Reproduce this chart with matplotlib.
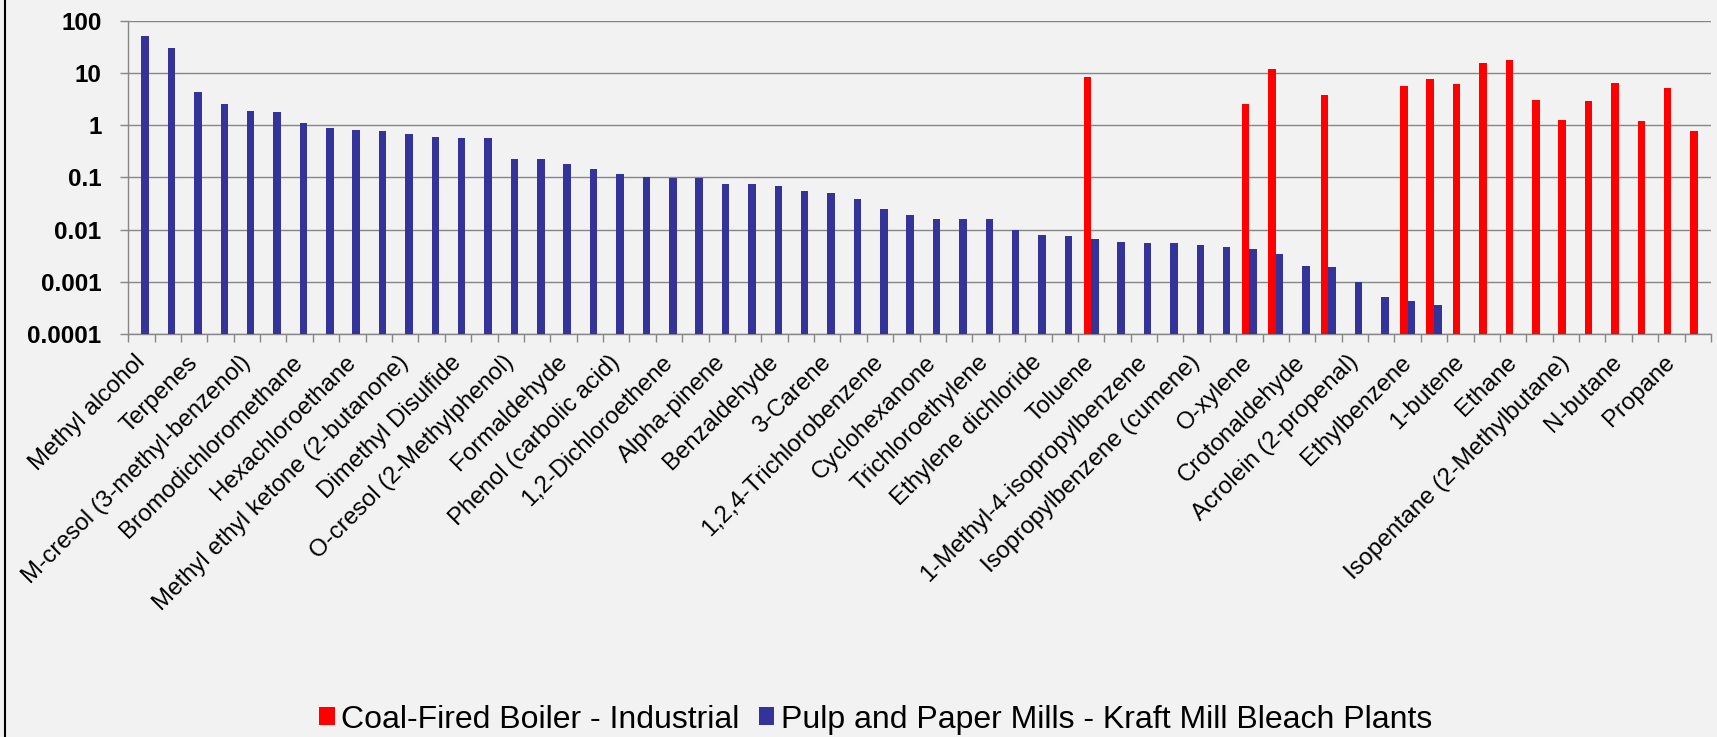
import numpy as np
import matplotlib
matplotlib.use("Agg")
import matplotlib.pyplot as plt
from matplotlib.patches import Patch
from matplotlib.lines import Line2D

plt.rcParams['font.family'] = ['Liberation Sans', 'DejaVu Sans']

# every other category is labelled on the axis (as in the original)
shown_labels = [
    "Methyl alcohol", "Terpenes", "M-cresol (3-methyl-benzenol)",
    "Bromodichloromethane", "Hexachloroethane",
    "Methyl ethyl ketone (2-butanone)", "Dimethyl Disulfide",
    "O-cresol (2-Methylphenol)", "Formaldehyde", "Phenol (carbolic acid)",
    "1,2-Dichloroethene", "Alpha-pinene", "Benzaldehyde", "3-Carene",
    "1,2,4-Trichlorobenzene", "Cyclohexanone", "Trichloroethylene",
    "Ethylene dichloride", "Toluene", "1-Methyl-4-isopropylbenzene",
    "Isopropylbenzene (cumene)", "O-xylene", "Crotonaldehyde",
    "Acrolein (2-propenal)", "Ethylbenzene", "1-butene", "Ethane",
    "Isopentane (2-Methylbutane)", "N-butane", "Propane",
]
n_categories = 60

nan = np.nan
coal_boiler = [
    nan, nan, nan, nan, nan, nan, nan, nan, nan, nan,
    nan, nan, nan, nan, nan, nan, nan, nan, nan, nan,
    nan, nan, nan, nan, nan, nan, nan, nan, nan, nan,
    nan, nan, nan, nan, nan, nan, 8.4, nan, nan, nan,
    nan, nan, 2.58, 11.7, nan, 3.73, nan, nan, 5.6, 7.8,
    6.05, 15.5, 17.9, 3.03, 1.24, 2.9, 6.4, 1.19, 5.2, 0.76,
]
pulp_paper = [
    52, 30.4, 4.25, 2.55, 1.84, 1.80, 1.09, 0.90, 0.81, 0.76,
    0.68, 0.60, 0.56, 0.56, 0.225, 0.22, 0.184, 0.143, 0.118, 0.101,
    0.098, 0.098, 0.073, 0.073, 0.068, 0.055, 0.051, 0.038, 0.0253, 0.0189,
    0.0156, 0.0156, 0.0156, 0.0099, 0.0079, 0.0075, 0.0067, 0.0059, 0.0055, 0.0055,
    0.0050, 0.0046, 0.0042, 0.0034, 0.00202, 0.00194, 0.00097, 0.00051, 0.00042, 0.00036,
    nan, nan, nan, nan, nan, nan, nan, nan, nan, nan,
]
y_ticks = [0.0001, 0.001, 0.01, 0.1, 1, 10, 100]
y_tick_labels = ["0.0001", "0.001", "0.01", "0.1", "1", "10", "100"]

red = "#FF0000"
blue = "#333399"
grey = "#868686"
bg = "#F2F2F2"

W, H = 1717, 737
fig = plt.figure(figsize=(W / 100, H / 100), dpi=100, facecolor=bg)
ax = fig.add_axes([128.2 / W, (H - 334) / H, (1711 - 128.2) / W, (334 - 20.7) / H])
ax.set_facecolor(bg)
ax.set_yscale("log")

x = np.arange(n_categories)
w = 0.285
ax.bar(x - w / 2, coal_boiler, width=w, color=red, zorder=3)
ax.bar(x + w / 2, pulp_paper, width=w, color=blue, zorder=3)

ax.set_xlim(-0.5, n_categories - 0.5)
ax.set_ylim(1e-4, 100)

ax.set_yticks(y_ticks, y_tick_labels)
ax.yaxis.set_minor_locator(matplotlib.ticker.NullLocator())
ax.tick_params(axis="y", length=5.8, width=1, color=grey, pad=13.5,
               labelsize=17.5)
for t in ax.get_yticklabels():
    t.set_fontweight("bold")

ax.set_xticks(x[::2], shown_labels, rotation=45, ha="right", va="center",
              rotation_mode="anchor")
ax.set_xticks(np.arange(-0.5, n_categories), minor=True)
ax.tick_params(axis="x", which="major", length=0, pad=18, labelsize=17.3)
ax.tick_params(axis="x", which="minor", length=5.5, width=1, color=grey)

ax.grid(axis="y", color=grey, linewidth=1.0, zorder=0)
ax.set_axisbelow(True)
for side in ["top", "right"]:
    ax.spines[side].set_visible(False)
for side in ["left", "bottom"]:
    ax.spines[side].set_color(grey)
    ax.spines[side].set_linewidth(1.0)

handles = [Patch(facecolor=red, label="Coal-Fired Boiler - Industrial"),
           Patch(facecolor=blue, label="Pulp and Paper Mills - Kraft Mill Bleach Plants")]
fig.legend(handles=handles, loc="center", bbox_to_anchor=(875.5 / W, 0.0235),
           ncol=2, frameon=False, fontsize=23, handlelength=0.49,
           handleheight=0.5, handletextpad=0.2, columnspacing=0.6, borderpad=0)

# border of the chart area, only its left edge is visible
fig.add_artist(Line2D([5 / W, 5 / W], [0, 1], color="black", linewidth=1.5,
                      transform=fig.transFigure))

fig.savefig("out.png", dpi=100, facecolor=bg)
